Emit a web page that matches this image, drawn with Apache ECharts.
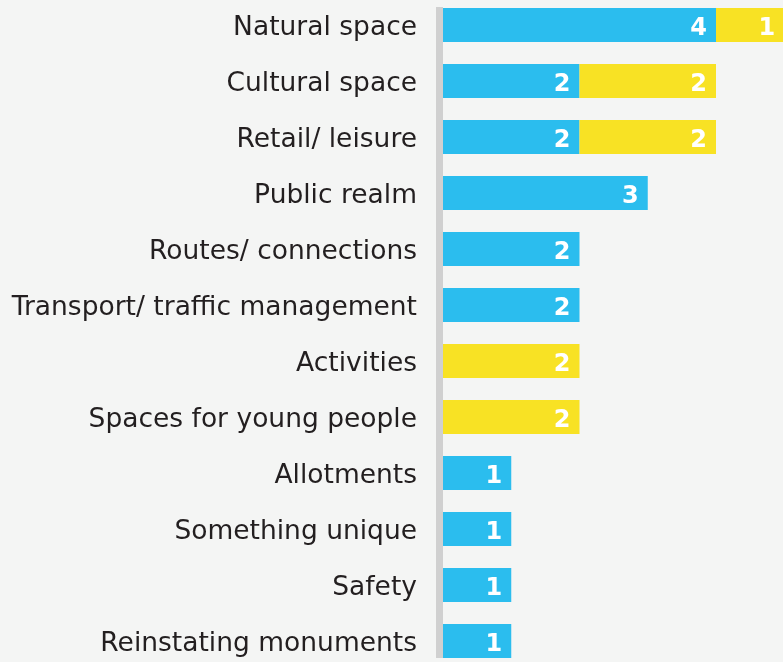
<!DOCTYPE html>
<html>
<head>
<meta charset="utf-8">
<script src="https://cdn.jsdelivr.net/npm/echarts@6/dist/echarts.min.js"></script>
<style>
html,body{margin:0;padding:0;background:#F4F5F4;}
#chart{width:783px;height:662px;}
</style>
</head>
<body>
<div id="chart"></div>
<script>
const categories = ["Natural space","Cultural space","Retail/ leisure","Public realm","Routes/ connections","Transport/ traffic management","Activities","Spaces for young people","Allotments","Something unique","Safety","Reinstating monuments"];
const blueValues = [4,2,2,3,2,2,null,null,1,1,1,1];
const yellowValues = [1,2,2,null,null,null,2,2,null,null,null,null];

const chart = echarts.init(document.getElementById('chart'), null, {renderer:'canvas'});
const labelStyle = {show:true, position:'insideRight', distance:9, offset:[0,4], color:'#fff', fontFamily:'DejaVu Sans', fontWeight:'bold', fontSize:24};
chart.setOption({
  backgroundColor:'#F4F5F4',
  animation:false,
  grid:[
    {left:443, top:-3, height:672, width:341.25, outerBoundsMode:'none', containLabel:false},
    {left:439.5, top:7, height:651, width:10, outerBoundsMode:'none', containLabel:false}
  ],
  xAxis:[
    {gridIndex:0, type:'value', min:0, max:5, show:false},
    {gridIndex:1, type:'value', min:0, max:1, show:false}
  ],
  yAxis:[
    {gridIndex:0, type:'category', data:categories, inverse:true,
     axisLine:{show:false}, axisTick:{show:false},
     axisLabel:{margin:26, color:'#231F20', fontFamily:'DejaVu Sans', fontSize:26.5, verticalAlign:'top', lineHeight:7}},
    {gridIndex:1, type:'value', min:0, max:1,
     axisLine:{show:true, lineStyle:{color:'#D0D0D0', width:7, cap:'butt'}},
     axisTick:{show:false}, axisLabel:{show:false}, splitLine:{show:false}}
  ],
  series:[
    {type:'bar', stack:'a', data:blueValues, barWidth:34, itemStyle:{color:'#2BBDEE'}, label:labelStyle},
    {type:'bar', stack:'a', data:yellowValues, barWidth:34, itemStyle:{color:'#F8E224'}, label:labelStyle}
  ]
});
</script>
</body>
</html>
